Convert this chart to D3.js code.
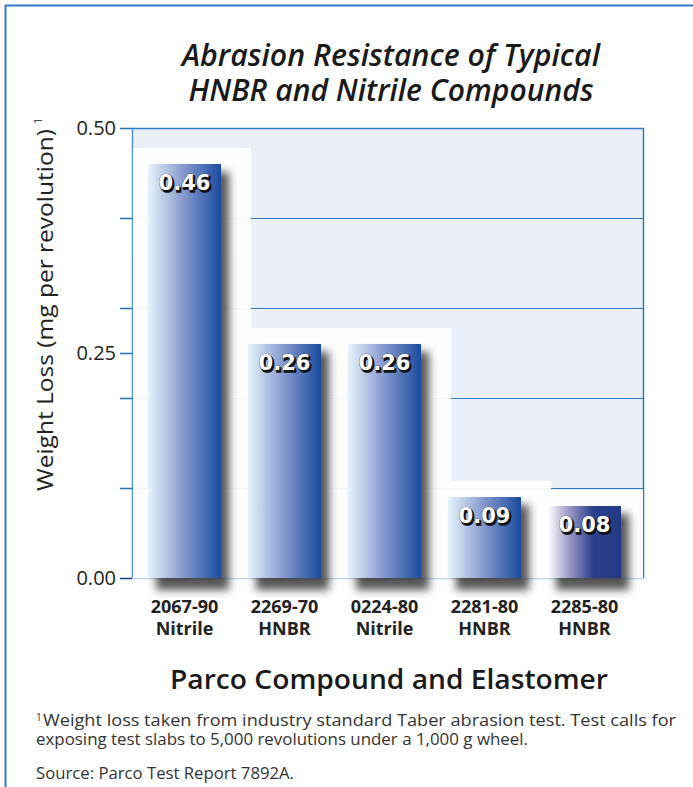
<!DOCTYPE html>
<html>
<head>
<meta charset="utf-8">
<script src="https://cdn.jsdelivr.net/npm/d3@7"></script>
<style>
  body { margin: 0; background: #fff; }
  svg { display: block; }
</style>
</head>
<body>
<svg id="chart" width="693" height="787"></svg>
<script>
// data
const categories = ["2067-90", "2269-70", "0224-80", "2281-80", "2285-80"];
const elastomers = ["Nitrile", "HNBR", "Nitrile", "HNBR", "HNBR"];
const weightLoss = [0.46, 0.26, 0.26, 0.09, 0.08];
const yTicks = [0, 0.1, 0.2, 0.25, 0.3, 0.4, 0.5];
const yTickLabels = [0, 0.25, 0.5];
const gridValues = [0.1, 0.2, 0.3, 0.4];

const svg = d3.select("#chart");
const plot = { left: 132, right: 644, top: 128, bottom: 578 };

// SCALES
const x = d3.scaleBand()
    .domain(categories)
    .range([134.5, 634.5])
    .paddingInner(0.27)
    .paddingOuter(0.135);

const y = d3.scaleLinear()
    .domain([0, 0.5])
    .range([plot.bottom, plot.top]);

// GRADIENTS + FILTERS
const defs = svg.append("defs");
const barGrad = defs.append("linearGradient").attr("id", "barGrad");
barGrad.append("stop").attr("offset", "0%").attr("stop-color", "#e6f5fc");
barGrad.append("stop").attr("offset", "45%").attr("stop-color", "#8d9fd1");
barGrad.append("stop").attr("offset", "100%").attr("stop-color", "#1a4b9f");

const lastGrad = defs.append("linearGradient").attr("id", "lastGrad");
lastGrad.append("stop").attr("offset", "0%").attr("stop-color", "#ffffff");
lastGrad.append("stop").attr("offset", "28%").attr("stop-color", "#9f9bc6");
lastGrad.append("stop").attr("offset", "62%").attr("stop-color", "#2a3f8c");
lastGrad.append("stop").attr("offset", "100%").attr("stop-color", "#223a86");

defs.append("filter").attr("id", "blur")
    .attr("x", "-50%").attr("y", "-50%").attr("width", "200%").attr("height", "200%")
    .append("feGaussianBlur").attr("stdDeviation", 4.5);

// OUTER BORDER (top + left only, the rest is cropped)
svg.append("line").attr("x1", 5).attr("x2", 693).attr("y1", 5.5).attr("y2", 5.5)
    .attr("stroke", "#2b7bc9").attr("stroke-width", 2);
svg.append("line").attr("x1", 5.5).attr("x2", 5.5).attr("y1", 5).attr("y2", 787)
    .attr("stroke", "#2b7bc9").attr("stroke-width", 2);

// PLOT BACKGROUND + GRID
svg.append("rect")
    .attr("x", plot.left).attr("y", plot.top)
    .attr("width", plot.right - plot.left).attr("height", plot.bottom - plot.top)
    .attr("fill", "#ebf0f8");

svg.append("g").selectAll("line")
    .data(gridValues)
    .join("line")
    .attr("x1", plot.left).attr("x2", plot.right)
    .attr("y1", d => Math.round(y(d)) + 0.5).attr("y2", d => Math.round(y(d)) + 0.5)
    .attr("stroke", "#2a7cc6").attr("stroke-width", 1);

// plot frame
svg.append("line").attr("x1", plot.left).attr("x2", plot.right)
    .attr("y1", plot.top + 0.5).attr("y2", plot.top + 0.5)
    .attr("stroke", "#2a7cc6").attr("stroke-width", 1.5);
svg.append("line").attr("x1", plot.left + 0.5).attr("x2", plot.left + 0.5)
    .attr("y1", plot.top).attr("y2", plot.bottom)
    .attr("stroke", "#4f94d2").attr("stroke-width", 1.5);
svg.append("line").attr("x1", plot.right - 0.5).attr("x2", plot.right - 0.5)
    .attr("y1", plot.top).attr("y2", plot.bottom)
    .attr("stroke", "#2a7cc6").attr("stroke-width", 1.5);
svg.append("line").attr("x1", plot.left).attr("x2", plot.right)
    .attr("y1", plot.bottom + 0.5).attr("y2", plot.bottom + 0.5)
    .attr("stroke", "#b9d3ec").attr("stroke-width", 1.5);

// WHITE GLOW BOXES BEHIND THE BARS
const boxes = svg.append("g").attr("opacity", 0.93);
boxes.selectAll("rect")
    .data(weightLoss)
    .join("rect")
    .attr("x", (d, i) => Math.max(plot.left + 1, x(categories[i]) - 15))
    .attr("y", d => y(d) - 16)
    .attr("width", (d, i) => Math.min(plot.right - 1, x(categories[i]) + x.bandwidth() + 30) - Math.max(plot.left + 1, x(categories[i]) - 15))
    .attr("height", d => plot.bottom - y(d) + 16)
    .attr("fill", "#fff");

// Y TICKS
svg.append("g").selectAll("line")
    .data(yTicks)
    .join("line")
    .attr("x1", 120).attr("x2", plot.left)
    .attr("y1", d => Math.round(y(d)) + 0.5).attr("y2", d => Math.round(y(d)) + 0.5)
    .attr("stroke", d => d === 0 ? "#1b3e8a" : "#1f72c2").attr("stroke-width", 1.5);

svg.append("g").selectAll("text")
    .data(yTickLabels)
    .join("text")
    .attr("x", 116).attr("y", d => y(d) + 7)
    .attr("text-anchor", "end")
    .attr("font-family", "'Open Sans', sans-serif")
    .attr("font-size", 20)
    .attr("fill", "#222")
    .text(d => d3.format(".2f")(d));

// BAR SHADOWS
svg.append("g").selectAll("rect")
    .data(weightLoss)
    .join("rect")
    .attr("x", (d, i) => x(categories[i]) + 8)
    .attr("y", d => y(d) + 8)
    .attr("width", x.bandwidth())
    .attr("height", d => plot.bottom - y(d) + 4)
    .attr("fill", "#2a2a2a")
    .attr("opacity", 0.8)
    .attr("filter", "url(#blur)");

// BARS
svg.append("g").selectAll("rect")
    .data(weightLoss)
    .join("rect")
    .attr("x", (d, i) => x(categories[i]))
    .attr("y", d => y(d))
    .attr("width", x.bandwidth())
    .attr("height", d => plot.bottom - y(d))
    .attr("fill", (d, i) => i === categories.length - 1 ? "url(#lastGrad)" : "url(#barGrad)");

// VALUE LABELS (white with dark drop shadow)
const valueFont = "'DejaVu Sans', Verdana, sans-serif";
svg.append("g").selectAll("text")
    .data(weightLoss)
    .join("text")
    .attr("x", (d, i) => x(categories[i]) + x.bandwidth() / 2 + 1.5)
    .attr("y", d => y(d) + 27.5)
    .attr("text-anchor", "middle")
    .attr("font-family", valueFont).attr("font-weight", "bold").attr("font-size", 21)
    .attr("fill", "#111").attr("stroke", "#111").attr("stroke-width", 1.5)
    .text(d => d3.format(".2f")(d));
svg.append("g").selectAll("text")
    .data(weightLoss)
    .join("text")
    .attr("x", (d, i) => x(categories[i]) + x.bandwidth() / 2)
    .attr("y", d => y(d) + 26)
    .attr("text-anchor", "middle")
    .attr("font-family", valueFont).attr("font-weight", "bold").attr("font-size", 21)
    .attr("fill", "#fff").attr("stroke", "#222").attr("stroke-width", 0.6)
    .attr("paint-order", "stroke")
    .text(d => d3.format(".2f")(d));

// X CATEGORY LABELS (two lines, as separate texts)
const xLabels = svg.append("g")
    .attr("text-anchor", "middle")
    .attr("font-family", "'Open Sans', sans-serif")
    .attr("font-weight", "bold").attr("font-size", 18)
    .attr("fill", "#222");
xLabels.selectAll("text.code")
    .data(categories)
    .join("text").attr("class", "code")
    .attr("x", d => x(d) + x.bandwidth() / 2).attr("y", 613)
    .text(d => d);
xLabels.selectAll("text.elast")
    .data(categories)
    .join("text").attr("class", "elast")
    .attr("x", d => x(d) + x.bandwidth() / 2).attr("y", 635)
    .text((d, i) => elastomers[i]);

// TITLE
const title = ["Abrasion Resistance of Typical", "HNBR and Nitrile Compounds"];
svg.append("g").selectAll("text")
    .data(title)
    .join("text")
    .attr("x", 391).attr("y", (d, i) => 66 + i * 35)
    .attr("text-anchor", "middle")
    .attr("font-family", "'Open Sans', sans-serif")
    .attr("font-style", "italic").attr("font-weight", 600)
    .attr("font-size", 30)
    .attr("textLength", (d, i) => i === 0 ? 418 : 405)
    .attr("lengthAdjust", "spacingAndGlyphs")
    .attr("fill", "#1a1a1a")
    .text(d => d);

// Y AXIS TITLE
svg.append("text")
    .attr("transform", "translate(53,310) rotate(-90)")
    .attr("text-anchor", "middle")
    .attr("font-family", "'Open Sans', sans-serif")
    .attr("font-size", 22.5)
    .attr("textLength", 362).attr("lengthAdjust", "spacingAndGlyphs")
    .attr("fill", "#222")
    .text("Weight Loss (mg per revolution)");
svg.append("text")
    .attr("transform", "translate(42,124) rotate(-90)")
    .attr("font-family", "'Open Sans', sans-serif")
    .attr("font-size", 11)
    .attr("fill", "#222")
    .text("1");

// X AXIS TITLE
svg.append("text")
    .attr("x", 389).attr("y", 689)
    .attr("text-anchor", "middle")
    .attr("font-family", "'Open Sans', sans-serif")
    .attr("font-weight", 600).attr("font-size", 27)
    .attr("textLength", 438).attr("lengthAdjust", "spacingAndGlyphs")
    .attr("fill", "#1a1a1a")
    .text("Parco Compound and Elastomer");

// FOOTNOTES
const note = svg.append("g")
    .attr("font-family", "'Open Sans', sans-serif")
    .attr("font-size", 16)
    .attr("fill", "#333");
note.append("text").attr("x", 36).attr("y", 721)
    .attr("font-size", 10).text("1");
note.append("text").attr("x", 43).attr("y", 726)
    .attr("textLength", 633).attr("lengthAdjust", "spacingAndGlyphs")
    .text("Weight loss taken from industry standard Taber abrasion test.  Test calls for");
note.append("text").attr("x", 36).attr("y", 745)
    .attr("textLength", 492).attr("lengthAdjust", "spacingAndGlyphs")
    .text("exposing test slabs to 5,000 revolutions under a 1,000 g wheel.");
note.append("text").attr("x", 36).attr("y", 779)
    .attr("textLength", 258).attr("lengthAdjust", "spacingAndGlyphs")
    .text("Source: Parco Test Report 7892A.");
</script>
</body>
</html>
